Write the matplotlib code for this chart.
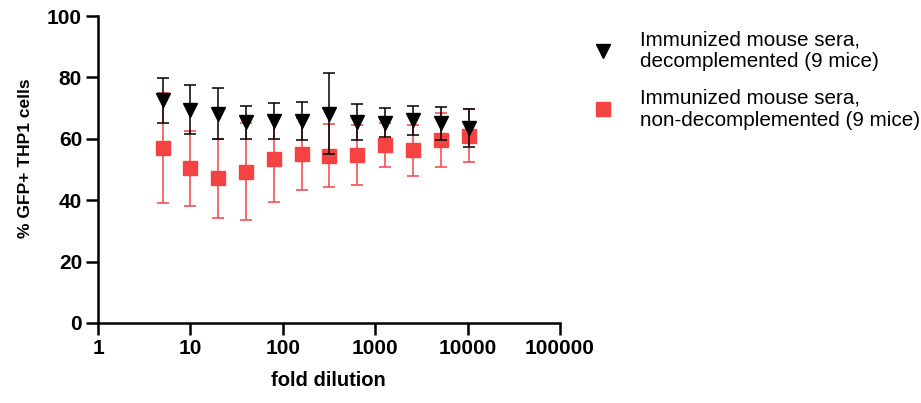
import matplotlib
matplotlib.use('Agg')
import matplotlib.pyplot as plt
from matplotlib.lines import Line2D

plt.rcParams['font.family'] = ['Liberation Sans', 'DejaVu Sans']

# fold dilutions
dilution = [5, 10, 20, 40, 80, 160, 320, 640, 1280, 2560, 5120, 10240]

# decomplemented sera: mean and SD
decomp_mean = [72.6, 69.5, 68.2, 65.4, 65.7, 65.8, 68.2, 65.4, 65.2, 66.0, 65.0, 63.5]
decomp_sd = [7.3, 8.0, 8.2, 5.4, 5.8, 6.2, 13.2, 5.9, 4.7, 4.8, 5.5, 6.2]

# non-decomplemented sera: mean and SD
nondecomp_mean = [57.0, 50.4, 47.1, 49.3, 53.3, 55.0, 54.5, 54.7, 58.1, 56.2, 59.6, 61.0]
nondecomp_sd = [17.8, 12.2, 12.8, 15.7, 13.8, 11.7, 10.2, 9.9, 7.2, 8.2, 8.7, 8.7]

labels = ['Immunized mouse sera,\ndecomplemented (9 mice)',
          'Immunized mouse sera,\nnon-decomplemented (9 mice)']
red = '#F54242'

fig = plt.figure(figsize=(9.21, 4.03), dpi=100)
ax = fig.add_axes([98 / 921, 1 - 323 / 403, 462 / 921, 307 / 403])

ax.errorbar(dilution, nondecomp_mean, yerr=nondecomp_sd, fmt='s', color=red,
            ecolor=red, elinewidth=1.1, capsize=4.5, capthick=1.1,
            markersize=9.5, zorder=2)
ax.errorbar(dilution, decomp_mean, yerr=decomp_sd, fmt='v', color='black',
            ecolor='black', elinewidth=1.1, capsize=4.5, capthick=1.1,
            markersize=9.5, zorder=3)

ax.set_xscale('log')
ax.set_xlim(1, 100000)
ax.set_ylim(0, 100)
ax.set_xticks([1, 10, 100, 1000, 10000, 100000])
ax.set_xticklabels(['1', '10', '100', '1000', '10000', '100000'])
ax.xaxis.set_minor_locator(matplotlib.ticker.NullLocator())
ax.set_yticks([0, 20, 40, 60, 80, 100])

for side in ['top', 'right']:
    ax.spines[side].set_visible(False)
for side in ['left', 'bottom']:
    ax.spines[side].set_linewidth(1.8)
ax.tick_params(width=1.8, length=8.5, labelsize=15, pad=3)
for lab in ax.get_xticklabels() + ax.get_yticklabels():
    lab.set_fontweight('bold')

fig.text(25 / 921, 1 - 158 / 403, '% GFP+ THP1 cells', rotation=90,
         ha='center', va='center', fontsize=12.5, fontweight='bold')
fig.text(328 / 921, 1 - 380 / 403, 'fold dilution', ha='center', va='center',
         fontsize=14.5, fontweight='bold')

# legend with markers only
handles = [Line2D([], [], linestyle='none', marker='v', color='black', markersize=9.5),
           Line2D([], [], linestyle='none', marker='s', color=red, markersize=9.5)]
fig.legend(handles, labels, loc='upper left',
           bbox_to_anchor=(594 / 921, 1 - 30 / 403), frameon=False,
           fontsize=14.9, handlelength=0.9, handletextpad=1.3,
           borderpad=0, borderaxespad=0, labelspacing=0.85)

fig.savefig('out.png', dpi=100)
